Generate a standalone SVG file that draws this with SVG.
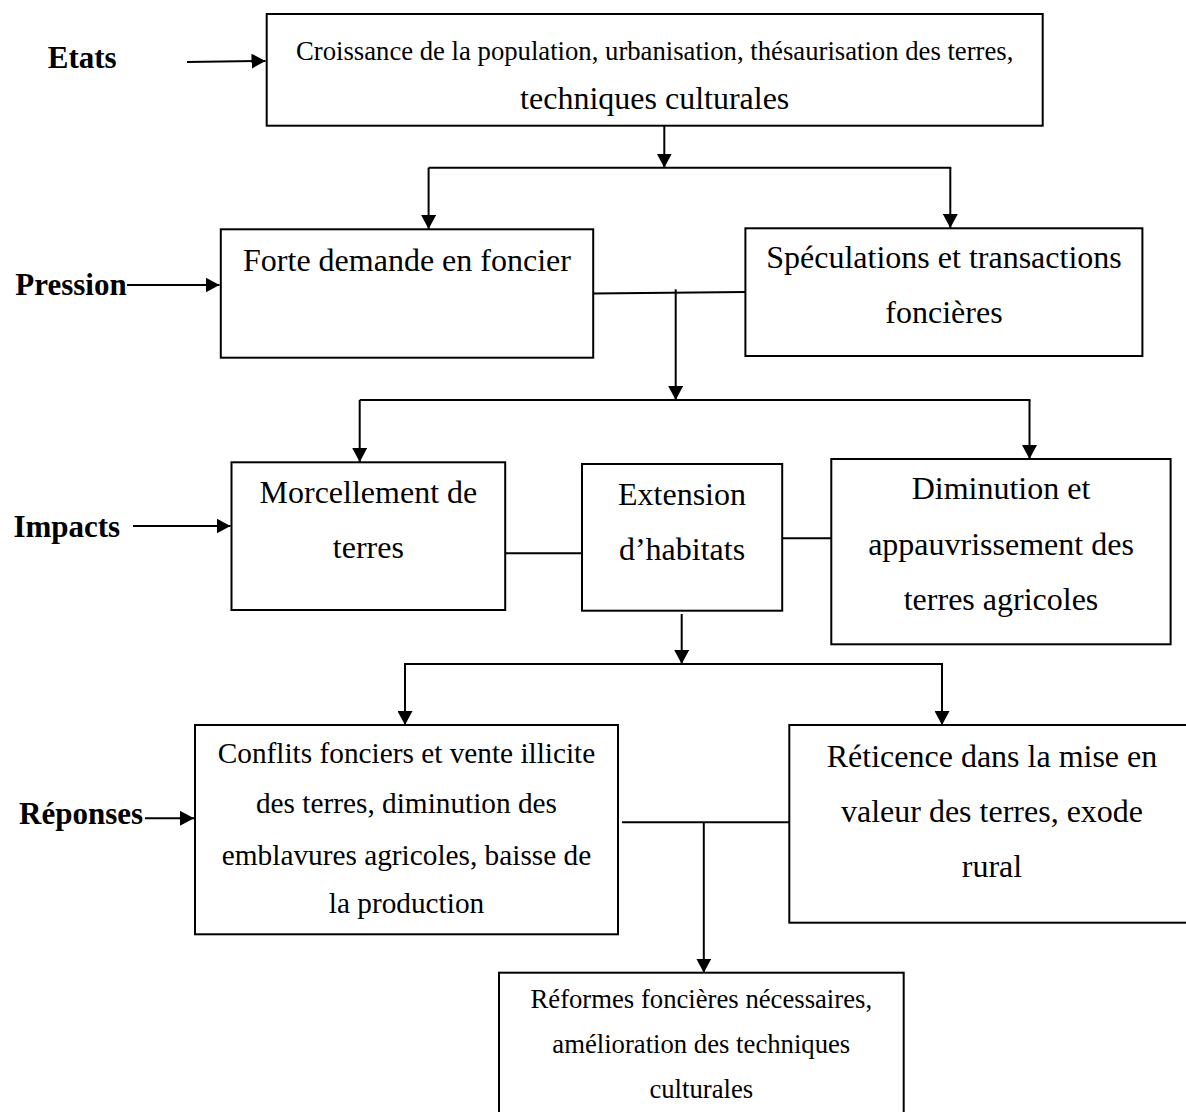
<svg xmlns="http://www.w3.org/2000/svg" width="1186" height="1112" viewBox="0 0 1186 1112">
<style>
  .box { fill: #ffffff; stroke: #000000; stroke-width: 2; }
  .ln { fill: none; stroke: #000000; stroke-width: 2; }
  .arr { fill: none; stroke: #000000; stroke-width: 2; marker-end: url(#ah); }
  .t { font-family: "Liberation Serif", "Times New Roman", serif; fill: #000000; text-anchor: middle; }
  .lbl { font-family: "Liberation Serif", "Times New Roman", serif; font-weight: bold; font-size: 31px; fill: #000000; }
  .s32 { font-size: 32px; }
  .s29 { font-size: 29.3px; }
  .s27 { font-size: 26.7px; }
</style>
<defs>
  <marker id="ah" markerUnits="userSpaceOnUse" markerWidth="15" markerHeight="15" refX="14" refY="7.5" orient="auto">
    <path d="M0,0 L14,7.5 L0,15 Z" fill="#000000"/>
  </marker>
</defs>
<rect width="1186" height="1112" fill="#ffffff"/>

<g id="labels">
  <text class="lbl" x="47.8" y="68.3">Etats</text>
  <text class="lbl" x="15.3" y="295">Pression</text>
  <text class="lbl" x="13.4" y="536.7">Impacts</text>
  <text class="lbl" x="19" y="824">Réponses</text>
</g>

<g id="connectors">
  <line class="arr" x1="187" y1="62" x2="265.5" y2="61"/>
  <line class="arr" x1="127" y1="285" x2="219.5" y2="285"/>
  <line class="arr" x1="133" y1="526" x2="230.5" y2="526"/>
  <line class="arr" x1="145" y1="818.3" x2="194" y2="818.3"/>

  <line class="arr" x1="664.3" y1="126" x2="664.3" y2="167.7"/>
  <line class="ln" x1="428.6" y1="167.7" x2="951.3" y2="167.7"/>
  <line class="arr" x1="428.6" y1="167.7" x2="428.6" y2="229"/>
  <line class="arr" x1="950.3" y1="167.7" x2="950.3" y2="228"/>

  <line class="ln" x1="593" y1="293.5" x2="745.5" y2="292"/>
  <line class="arr" x1="675.7" y1="289.3" x2="675.7" y2="400"/>
  <line class="ln" x1="359.7" y1="400" x2="1030.5" y2="400"/>
  <line class="arr" x1="359.7" y1="400" x2="359.7" y2="462"/>
  <line class="arr" x1="1029.5" y1="400" x2="1029.5" y2="459"/>

  <line class="ln" x1="505" y1="553.3" x2="582" y2="553.3"/>
  <line class="ln" x1="782" y1="538.3" x2="831.3" y2="538.3"/>
  <line class="arr" x1="681.7" y1="614" x2="681.7" y2="664"/>
  <line class="ln" x1="404" y1="664" x2="943" y2="664"/>
  <line class="arr" x1="405" y1="664" x2="405" y2="725"/>
  <line class="arr" x1="942" y1="664" x2="942" y2="725"/>

  <line class="ln" x1="622" y1="822.3" x2="789.3" y2="822.3"/>
  <line class="arr" x1="703.8" y1="822.3" x2="703.8" y2="972.7"/>
</g>

<g id="node-etats">
  <rect class="box" x="266.7" y="14" width="776" height="111.7"/>
  <text class="t s27" x="654.7" y="60">Croissance de la population, urbanisation, thésaurisation des terres,</text>
  <text class="t s32" x="654.7" y="109">techniques culturales</text>
</g>

<g id="node-forte">
  <rect class="box" x="220.8" y="229.3" width="372.4" height="128.4"/>
  <text class="t s32" x="407" y="270.7">Forte demande en foncier</text>
</g>

<g id="node-speculations">
  <rect class="box" x="745.4" y="228.3" width="397" height="127.7"/>
  <text class="t s32" x="944" y="268.3">Spéculations et transactions</text>
  <text class="t s32" x="944" y="323.3">foncières</text>
</g>

<g id="node-morcellement">
  <rect class="box" x="231.5" y="462.3" width="273.7" height="147.7"/>
  <text class="t s32" x="368.4" y="503.3">Morcellement de</text>
  <text class="t s32" x="368.4" y="558.3">terres</text>
</g>

<g id="node-extension">
  <rect class="box" x="582" y="464" width="200.2" height="146.7"/>
  <text class="t s32" x="682" y="505">Extension</text>
  <text class="t s32" x="682" y="560">d’habitats</text>
</g>

<g id="node-diminution">
  <rect class="box" x="831.3" y="459" width="339.3" height="185.3"/>
  <text class="t s32" x="1001" y="499.3">Diminution et</text>
  <text class="t s32" x="1001" y="555">appauvrissement des</text>
  <text class="t s32" x="1001" y="610">terres agricoles</text>
</g>

<g id="node-conflits">
  <rect class="box" x="195" y="725" width="423" height="209.3"/>
  <text class="t s29" x="406.5" y="763.3">Conflits fonciers et vente illicite</text>
  <text class="t s29" x="406.5" y="813.3">des terres, diminution des</text>
  <text class="t s29" x="406.5" y="865">emblavures agricoles, baisse de</text>
  <text class="t s29" x="406.5" y="913.3">la production</text>
</g>

<g id="node-reticence">
  <rect class="box" x="789.3" y="725" width="406" height="197.7"/>
  <text class="t s32" x="992" y="766.7">Réticence dans la mise en</text>
  <text class="t s32" x="992" y="821.7">valeur des terres, exode</text>
  <text class="t s32" x="992" y="876.7">rural</text>
</g>

<g id="node-reformes">
  <rect class="box" x="499" y="972.7" width="404.7" height="150"/>
  <text class="t s27" x="701.3" y="1008.3">Réformes foncières nécessaires,</text>
  <text class="t s27" x="701.3" y="1053.3">amélioration des techniques</text>
  <text class="t s27" x="701.3" y="1098.3">culturales</text>
</g>
</svg>
